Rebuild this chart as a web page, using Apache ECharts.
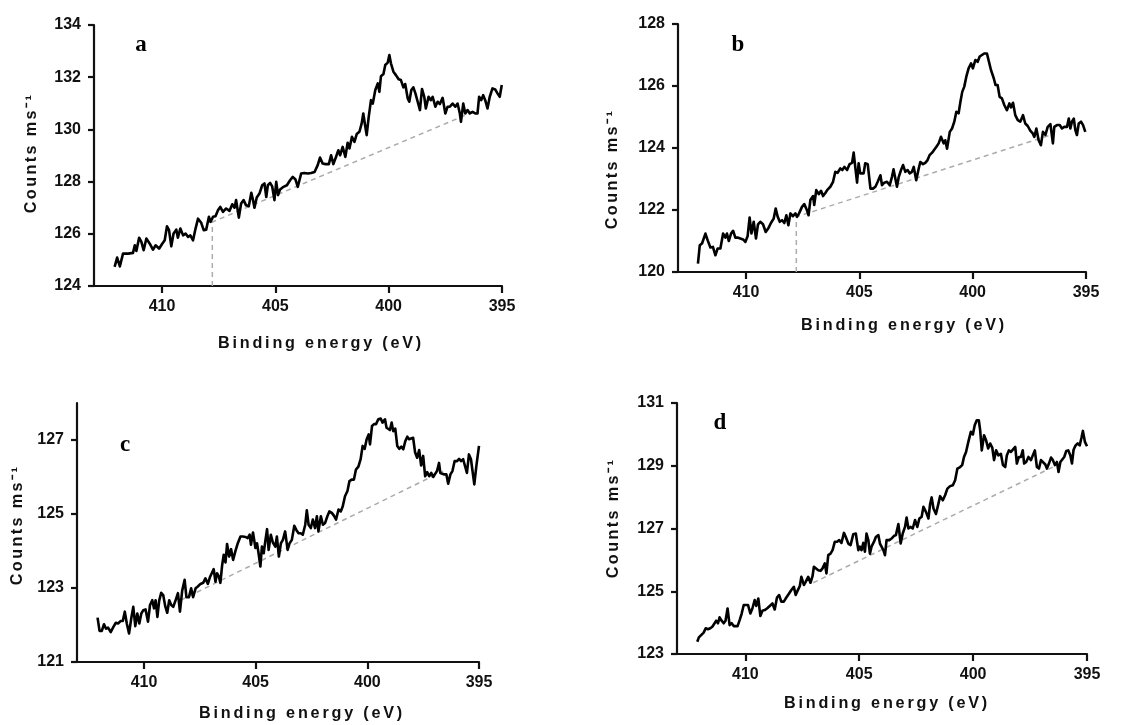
<!DOCTYPE html>
<html>
<head>
<meta charset="utf-8">
<script src="https://cdn.jsdelivr.net/npm/echarts@6/dist/echarts.min.js"></script>
<style>
html,body{margin:0;padding:0;background:#fff;}
#chart{width:1128px;height:725px;}
</style>
</head>
<body>
<div id="chart"></div>
<script>
// ---------------- DATA ----------------
const xTicks = [395, 400, 405, 410];
const xTitle = 'Binding energy (eV)';
const yTitle = 'Counts ms\u207B\u00B9';
const panelLabels = ['a', 'b', 'c', 'd'];

const yTicksA = [124, 126, 128, 130, 132, 134];
const yTicksB = [120, 122, 124, 126, 128];
const yTicksC = [121, 123, 125, 127];
const yTicksD = [123, 125, 127, 129, 131];

const energyA = [412.09,411.98,411.86,411.72,411.50,411.28,411.20,411.13,411.01,410.91,410.81,410.69,410.54,410.40,410.28,410.13,409.99,409.88,409.78,409.69,409.59,409.49,409.37,409.30,409.19,409.07,408.96,408.85,408.75,408.63,408.52,408.41,408.27,408.16,408.05,407.93,407.86,407.75,407.64,407.53,407.43,407.31,407.17,407.02,406.90,406.80,406.73,406.61,406.51,406.40,406.29,406.17,406.06,405.99,405.92,405.82,405.70,405.58,405.48,405.40,405.33,405.23,405.14,405.04,404.96,404.88,404.79,404.64,404.49,404.35,404.23,404.11,404.01,403.86,403.72,403.57,403.42,403.27,403.13,403.03,402.91,402.79,402.64,402.54,402.44,402.32,402.22,402.14,402.03,401.91,401.81,401.73,401.62,401.51,401.41,401.29,401.19,401.12,401.03,400.97,400.88,400.78,400.70,400.59,400.48,400.41,400.34,400.23,400.15,400.04,399.97,399.90,399.79,399.68,399.56,399.46,399.35,399.27,399.16,399.09,399.00,398.91,398.82,398.72,398.62,398.53,398.43,398.36,398.24,398.14,398.06,397.94,397.84,397.74,397.62,397.50,397.40,397.30,397.18,397.06,396.96,396.86,396.81,396.71,396.62,396.52,396.42,396.30,396.18,396.08,396.01,395.92,395.83,395.74,395.64,395.54,395.42,395.30,395.20,395.10,395.01];
const countsA = [124.73,125.09,124.75,125.24,125.24,125.27,125.56,125.34,125.85,125.69,125.37,125.82,125.62,125.39,125.56,125.43,125.62,125.75,126.29,126.14,125.52,126.01,126.16,125.85,126.20,125.94,126.01,125.88,125.94,125.75,126.20,126.58,126.42,126.14,126.16,126.65,126.46,126.65,126.67,126.90,127.03,126.84,126.97,126.88,127.13,127.00,127.29,126.62,127.16,127.29,127.09,127.06,127.57,127.31,127.00,127.39,127.54,127.86,127.93,127.41,127.86,127.95,127.82,127.29,127.99,127.48,127.70,127.80,127.86,128.05,128.18,128.08,127.80,128.31,128.33,128.31,128.33,128.37,128.63,128.92,128.69,128.67,128.67,129.01,128.67,128.95,129.20,129.01,129.33,128.95,129.49,129.27,129.72,129.52,129.82,129.91,130.23,130.61,130.10,129.78,130.48,131.12,130.99,131.51,131.76,131.44,132.04,132.12,132.47,132.56,132.85,132.53,132.21,132.08,131.92,131.89,131.61,131.74,131.19,131.06,131.51,131.61,131.38,131.06,130.74,131.55,131.25,130.80,131.25,131.12,131.25,130.87,131.06,130.97,131.21,130.61,130.87,130.87,130.99,130.87,130.99,130.61,130.29,130.99,130.61,130.74,130.61,130.67,130.61,130.61,131.25,131.12,131.31,131.12,130.80,131.25,131.57,131.53,131.38,131.25,131.70];
const baseEnergyA = [407.78, 407.78, 396.05];
const baseCountsA = [124.00, 126.45, 130.75];

const energyB = [412.12,412.04,411.94,411.79,411.69,411.57,411.46,411.35,411.25,411.13,411.01,410.91,410.84,410.76,410.66,410.57,410.47,410.37,410.25,410.13,410.03,409.93,409.84,409.76,409.66,409.56,409.47,409.37,409.25,409.13,409.00,408.90,408.78,408.69,408.60,408.51,408.41,408.31,408.22,408.13,408.04,407.93,407.82,407.75,407.66,407.53,407.43,407.31,407.24,407.16,407.04,406.99,406.90,406.79,406.69,406.60,406.50,406.40,406.28,406.16,406.06,405.96,405.84,405.75,405.66,405.54,405.43,405.32,405.25,405.18,405.10,405.03,404.96,404.88,404.81,404.74,404.63,404.51,404.40,404.29,404.19,404.07,404.00,403.90,403.78,403.66,403.56,403.49,403.41,403.34,403.26,403.16,403.07,402.97,402.87,402.78,402.68,402.60,402.49,402.38,402.31,402.19,402.09,401.99,401.90,401.79,401.72,401.60,401.50,401.40,401.28,401.21,401.13,401.01,400.91,400.81,400.72,400.62,400.54,400.46,400.37,400.28,400.18,400.07,399.99,399.88,399.78,399.69,399.59,399.49,399.37,399.28,399.19,399.07,398.99,398.90,398.81,398.71,398.60,398.49,398.38,398.31,398.22,398.12,398.01,397.90,397.78,397.68,397.57,397.46,397.35,397.28,397.19,397.09,396.99,396.90,396.79,396.69,396.57,396.46,396.40,396.28,396.16,396.06,395.96,395.84,395.76,395.69,395.62,395.54,395.47,395.40,395.32,395.22,395.13,395.03];
const countsB = [120.27,120.86,120.92,121.24,121.02,120.79,120.81,120.54,120.76,120.76,121.24,121.11,121.24,121.00,121.24,121.33,121.11,121.11,121.08,121.05,120.97,121.15,121.76,121.24,121.62,121.08,121.54,121.62,121.54,121.29,121.43,121.58,121.72,122.05,121.78,121.62,121.67,121.58,121.83,121.51,121.89,121.80,121.89,121.78,121.89,122.10,122.19,121.99,121.83,122.32,122.45,122.16,122.64,122.51,122.62,122.45,122.55,122.66,122.75,122.91,123.23,123.20,123.34,123.29,123.39,123.29,123.48,123.52,123.85,123.39,122.88,123.51,123.18,123.23,123.18,123.51,123.48,122.69,122.69,122.75,122.91,123.12,122.80,122.88,122.91,122.80,123.07,123.31,123.29,122.75,123.07,123.29,123.45,123.23,123.29,123.18,123.23,123.39,122.96,123.34,123.55,123.48,123.52,123.61,123.77,123.85,123.82,124.04,124.15,124.36,124.15,124.25,123.98,124.52,124.63,124.85,125.17,125.12,125.49,125.81,125.98,126.30,126.57,126.73,126.57,126.84,126.78,126.95,127.00,127.05,127.05,126.78,126.51,126.25,126.03,126.03,125.65,125.60,125.38,125.22,125.44,125.31,125.46,125.06,124.90,124.85,125.06,124.79,124.71,124.56,124.47,124.36,124.63,124.25,124.09,124.52,124.42,124.68,124.77,124.15,124.68,124.74,124.74,124.63,124.68,124.68,124.95,124.63,124.85,124.95,124.58,124.42,124.79,124.85,124.74,124.52];
const baseEnergyB = [407.78, 407.78, 396.43];
const baseCountsB = [120.00, 121.78, 124.45];

const energyC = [412.08,411.99,411.89,411.79,411.70,411.61,411.49,411.37,411.26,411.16,411.04,410.95,410.86,410.77,410.67,410.57,410.48,410.39,410.30,410.21,410.12,410.03,409.93,409.82,409.73,409.63,409.55,409.48,409.40,409.32,409.23,409.14,409.05,408.96,408.87,408.78,408.69,408.59,408.48,408.39,408.29,408.18,408.10,407.99,407.89,407.80,407.69,407.59,407.47,407.35,407.25,407.14,407.05,406.95,406.88,406.80,406.73,406.65,406.58,406.50,406.43,406.35,406.28,406.19,406.10,406.01,405.91,405.80,405.68,405.57,405.46,405.36,405.27,405.21,405.12,405.01,404.94,404.87,404.79,404.72,404.64,404.57,404.49,404.42,404.32,404.23,404.12,404.05,403.96,403.87,403.78,403.68,403.57,403.48,403.38,403.27,403.18,403.08,402.98,402.89,402.78,402.71,402.63,402.53,402.44,402.34,402.26,402.19,402.08,401.99,401.89,401.79,401.70,401.59,401.49,401.40,401.29,401.19,401.10,401.00,400.89,400.80,400.70,400.60,400.51,400.40,400.30,400.21,400.12,400.03,399.94,399.88,399.79,399.70,399.61,399.51,399.40,399.32,399.21,399.14,399.06,398.99,398.91,398.84,398.75,398.66,398.57,398.48,398.39,398.30,398.21,398.13,398.04,397.95,397.86,397.77,397.68,397.59,397.50,397.41,397.32,397.23,397.14,397.05,396.96,396.88,396.79,396.73,396.64,396.55,396.46,396.38,396.28,396.19,396.09,395.98,395.89,395.80,395.71,395.63,395.54,395.45,395.36,395.30,395.21,395.12,395.00];
const countsC = [122.20,121.84,121.84,122.02,121.90,121.93,121.81,121.95,122.06,122.04,122.11,122.11,122.36,122.04,121.77,122.18,122.49,121.97,122.31,122.04,122.31,122.40,122.42,122.09,122.54,122.67,122.45,122.67,122.22,122.66,122.87,122.81,122.51,122.33,122.67,122.54,122.49,122.66,122.86,122.36,122.93,123.22,122.75,122.75,122.99,122.75,122.99,123.04,123.11,123.14,123.26,123.11,123.29,123.42,123.51,123.17,123.40,123.31,123.14,123.62,123.90,123.69,124.19,123.85,124.05,123.76,123.99,124.21,124.39,124.39,124.38,124.35,124.44,124.17,124.50,124.08,124.21,123.94,123.58,124.12,123.94,124.26,124.59,124.03,124.44,124.23,124.12,124.39,123.85,124.21,124.30,124.53,124.03,124.21,124.30,124.68,124.57,124.48,124.48,124.44,124.71,125.10,124.71,124.62,124.85,124.62,124.94,124.53,124.94,124.71,124.76,124.94,125.07,125.03,124.95,124.85,125.12,125.07,125.21,125.48,125.62,125.89,125.93,125.93,126.20,126.28,126.48,126.84,126.76,127.02,127.15,126.88,127.38,127.43,127.43,127.56,127.58,127.47,127.56,127.33,127.38,127.27,127.47,127.24,127.31,126.84,126.76,126.82,126.75,126.97,127.09,127.02,127.04,127.06,126.66,126.52,126.73,126.31,126.57,126.02,126.13,126.02,126.11,126.00,126.09,126.16,126.38,126.11,126.09,126.07,126.07,125.82,126.07,126.16,126.43,126.43,126.49,126.43,126.48,126.49,126.11,126.61,126.48,126.52,125.80,126.29,126.84];
const baseEnergyC = [408.36, 396.61];
const baseCountsC = [122.67, 126.16];

const energyD = [412.11,412.04,411.94,411.83,411.74,411.64,411.54,411.45,411.35,411.28,411.20,411.13,411.06,410.95,410.87,410.78,410.69,410.60,410.51,410.43,410.34,410.25,410.16,410.07,409.99,409.88,409.78,409.69,409.59,409.52,409.43,409.34,409.25,409.15,409.05,408.93,408.81,408.71,408.61,408.52,408.42,408.31,408.20,408.08,407.98,407.87,407.79,407.68,407.61,407.54,407.43,407.35,407.24,407.14,407.05,406.99,406.91,406.80,406.70,406.61,406.51,406.44,406.36,406.26,406.17,406.07,405.97,405.88,405.78,405.67,405.59,405.48,405.38,405.26,405.15,405.04,404.97,404.90,404.82,404.75,404.68,404.60,404.53,404.46,404.35,404.27,404.16,404.09,404.02,403.94,403.87,403.80,403.68,403.58,403.48,403.39,403.28,403.18,403.09,402.99,402.92,402.84,402.74,402.65,402.55,402.45,402.36,402.26,402.18,402.07,401.96,401.89,401.82,401.74,401.63,401.52,401.45,401.33,401.23,401.13,401.01,400.89,400.79,400.69,400.57,400.48,400.40,400.31,400.21,400.10,400.01,399.93,399.84,399.75,399.69,399.62,399.52,399.43,399.34,399.25,399.16,399.08,398.99,398.89,398.78,398.69,398.59,398.52,398.43,398.34,398.26,398.15,398.08,397.99,397.90,397.82,397.76,397.67,397.57,397.46,397.38,397.29,397.20,397.11,397.02,396.94,396.83,396.76,396.67,396.58,396.50,396.41,396.32,396.25,396.17,396.09,396.00,395.91,395.82,395.73,395.66,395.59,395.50,395.41,395.32,395.24,395.18,395.09,395.00];
const countsD = [123.39,123.53,123.60,123.68,123.82,123.79,123.82,123.87,123.98,124.06,123.98,124.17,124.08,123.98,124.06,124.45,123.92,123.98,123.89,123.92,123.89,124.08,124.29,124.56,124.59,124.56,124.29,124.45,124.72,124.53,124.77,124.21,124.38,124.40,124.45,124.53,124.61,124.42,124.80,124.88,124.67,124.67,124.80,124.93,125.04,125.14,124.88,125.06,125.16,125.46,125.20,125.30,125.46,125.27,125.48,125.78,125.80,125.67,125.65,125.73,125.89,125.57,126.15,126.20,126.31,126.58,126.58,126.63,126.54,126.86,126.73,126.52,126.47,126.82,126.84,126.31,126.42,126.31,126.54,126.26,126.84,126.63,126.20,126.42,126.58,126.73,126.79,126.52,126.42,126.31,126.15,126.63,126.63,126.68,126.76,126.79,127.14,126.52,126.84,127.05,127.35,127.00,127.05,127.00,127.27,127.05,127.32,127.37,127.69,127.53,127.32,127.77,127.99,127.64,127.46,127.80,128.03,127.90,128.06,128.27,128.35,128.38,128.54,128.91,128.96,129.02,129.28,129.44,129.76,130.08,130.00,130.29,130.45,130.45,130.13,129.49,129.97,129.81,129.55,129.71,129.58,129.18,129.49,129.33,129.38,129.02,128.96,129.33,129.49,129.44,129.49,129.60,129.07,129.28,129.28,129.49,129.07,129.12,129.28,129.18,129.33,129.49,128.96,128.91,129.18,129.23,129.04,128.91,129.07,129.26,129.18,129.02,129.12,128.80,129.12,129.07,129.28,129.47,129.49,129.33,129.07,129.51,129.65,129.71,129.65,129.90,130.11,129.76,129.62];
const baseEnergyD = [407.02, 396.32];
const baseCountsD = [125.27, 129.02];

// ---------------- letter spacing for the axis titles only ----------------
const SPACED = {};
SPACED[xTitle] = 2.8;
SPACED[yTitle] = 2.4;
(function () {
  const P = CanvasRenderingContext2D.prototype;
  const orig = P.fillText;
  P.fillText = function (t, x, y, w) {
    const call = () => (w === undefined) ? orig.call(this, t, x, y) : orig.call(this, t, x, y, w);
    if (typeof t === 'string' && SPACED[t] != null && 'letterSpacing' in this) {
      const f = this.font;
      this.letterSpacing = SPACED[t] + 'px';
      this.font = f;
      const r = call();
      this.letterSpacing = '0px';
      this.font = '10px sans-serif';
      this.font = f;
      return r;
    }
    if ('letterSpacing' in this && this.letterSpacing !== '0px') {
      const f = this.font;
      this.letterSpacing = '0px';
      this.font = '10px sans-serif';
      this.font = f;
    }
    return call();
  };
})();

// ---------------- BUILD ----------------
const zip = (xs, ys) => xs.map((x, i) => [x, ys[i]]);

const panels = [
  { grid: { left: 94, top: 25, width: 408, height: 261 }, yMin: 124, yMax: 134, yTicks: yTicksA,
    e: energyA, c: countsA, be: baseEnergyA, bc: baseCountsA,
    xt: [321, 344], yt: [32, 153], lab: [141, 45] },
  { grid: { left: 678, top: 24, width: 408, height: 248 }, yMin: 120, yMax: 128, yTicks: yTicksB,
    e: energyB, c: countsB, be: baseEnergyB, bc: baseCountsB,
    xt: [904, 326], yt: [613, 169], lab: [738, 45] },
  { grid: { left: 77, top: 403, width: 402, height: 259 }, yMin: 121, yMax: 128, yTicks: yTicksC,
    e: energyC, c: countsC, be: baseEnergyC, bc: baseCountsC,
    xt: [302, 714], yt: [18, 525], lab: [125, 445] },
  { grid: { left: 677, top: 403, width: 410, height: 251 }, yMin: 123, yMax: 131, yTicks: yTicksD,
    e: energyD, c: countsD, be: baseEnergyD, bc: baseCountsD,
    xt: [887, 704], yt: [614, 518], lab: [720, 423] }
];

const FONT = '"Liberation Sans", Arial, sans-serif';
const TITLE_FONT = 'bold 16.2px "Liberation Sans", Arial, sans-serif';
const axisLineStyle = { color: '#111', width: 2.2 };

const option = {
  animation: false,
  backgroundColor: '#ffffff',
  grid: [], xAxis: [], yAxis: [], series: [], graphic: []
};

panels.forEach((p, i) => {
  option.grid.push(Object.assign({ containLabel: false, show: false }, p.grid));
  option.xAxis.push({
    type: 'value', gridIndex: i, inverse: true, min: 395, max: 413,
    axisLine: { show: true, onZero: false, lineStyle: axisLineStyle },
    axisTick: { show: true, inside: false, length: 7, lineStyle: axisLineStyle, customValues: xTicks },
    axisLabel: { show: true, customValues: xTicks, margin: 13, color: '#111', fontSize: 16, fontWeight: 'bold', fontFamily: FONT },
    splitLine: { show: false }
  });
  option.yAxis.push({
    type: 'value', gridIndex: i, min: p.yMin, max: p.yMax,
    axisLine: { show: true, onZero: false, lineStyle: axisLineStyle },
    axisTick: { show: true, inside: false, length: 6, lineStyle: axisLineStyle, customValues: p.yTicks },
    axisLabel: { show: true, customValues: p.yTicks, margin: 13, color: '#111', fontSize: 16, fontWeight: 'bold', fontFamily: FONT },
    splitLine: { show: false }
  });
  option.series.push({
    type: 'line', xAxisIndex: i, yAxisIndex: i, data: zip(p.be, p.bc),
    showSymbol: false, symbol: 'none', silent: true, z: 1,
    lineStyle: { color: '#ababab', width: 1.5, type: [5, 4] }
  });
  option.series.push({
    type: 'line', xAxisIndex: i, yAxisIndex: i, data: zip(p.e, p.c),
    showSymbol: false, symbol: 'none', silent: true, z: 3,
    lineStyle: { color: '#000', width: 2.6, join: 'round' }
  });
  option.graphic.push({
    type: 'text', x: p.xt[0], y: p.xt[1], silent: true,
    style: { text: xTitle, font: TITLE_FONT, fill: '#111',
      align: 'center', verticalAlign: 'middle', textAlign: 'center', textVerticalAlign: 'middle' }
  });
  option.graphic.push({
    type: 'text', x: p.yt[0], y: p.yt[1], rotation: Math.PI / 2, silent: true,
    style: { text: yTitle, font: TITLE_FONT, fill: '#111',
      align: 'center', verticalAlign: 'middle', textAlign: 'center', textVerticalAlign: 'middle' }
  });
  option.graphic.push({
    type: 'text', x: p.lab[0], y: p.lab[1], silent: true,
    style: { text: panelLabels[i], font: 'bold 23px "Liberation Serif", "Times New Roman", serif', fill: '#000',
      align: 'center', verticalAlign: 'middle', textAlign: 'center', textVerticalAlign: 'middle' }
  });
});

const chart = echarts.init(document.getElementById('chart'), null, { renderer: 'canvas' });
chart.setOption(option);
</script>
</body>
</html>
